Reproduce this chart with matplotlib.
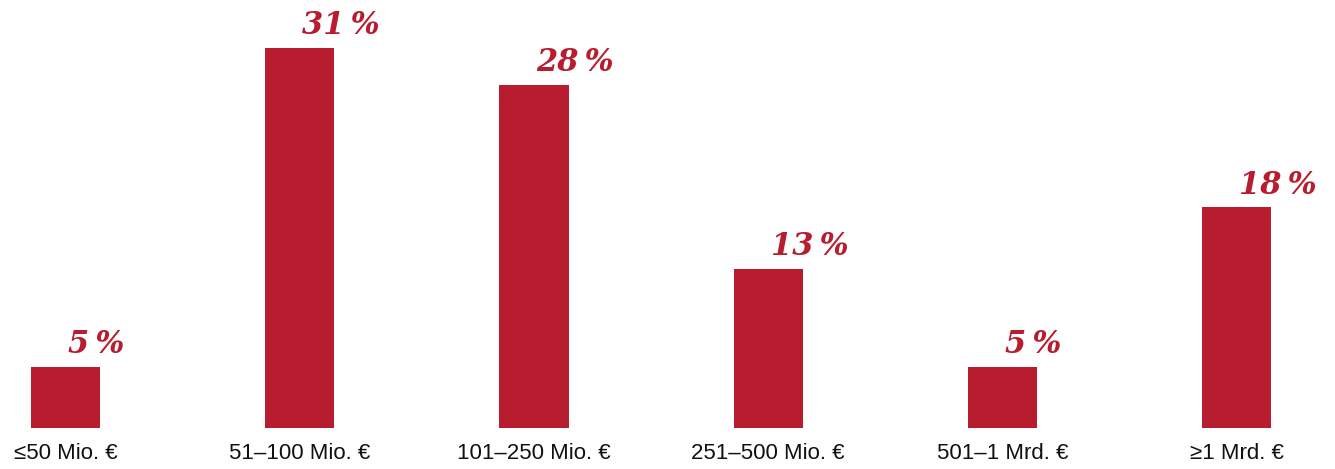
import matplotlib
matplotlib.use("Agg")
import matplotlib.pyplot as plt

categories = ["\u226450 Mio. \u20ac", "51\u2013100 Mio. \u20ac", "101\u2013250 Mio. \u20ac",
              "251\u2013500 Mio. \u20ac", "501\u20131 Mrd. \u20ac", "\u22651 Mrd. \u20ac"]
shares = [5, 31, 28, 13, 5, 18]

red = "#B71C2F"

fig = plt.figure(figsize=(13.35, 4.69), dpi=100)
ax = fig.add_axes([0, 0, 1, 1])
x = list(range(len(categories)))
ax.bar(x, shares, width=0.295, color=red)

for xi, v, cat in zip(x, shares, categories):
    ax.text(xi + 0.01, v + 1.1, f"{v}\u2009%", color=red, fontsize=22,
            family="DejaVu Serif", weight="bold", style="italic",
            ha="left", va="baseline")
    ax.text(xi, -2.05, cat, color="#111111", fontsize=16,
            family="Liberation Sans", ha="center", va="center")

ax.set_xlim(-0.28, 5.42)
ax.set_ylim(-3.34, 34.9)
ax.axis("off")

fig.savefig("out.png", dpi=100)
